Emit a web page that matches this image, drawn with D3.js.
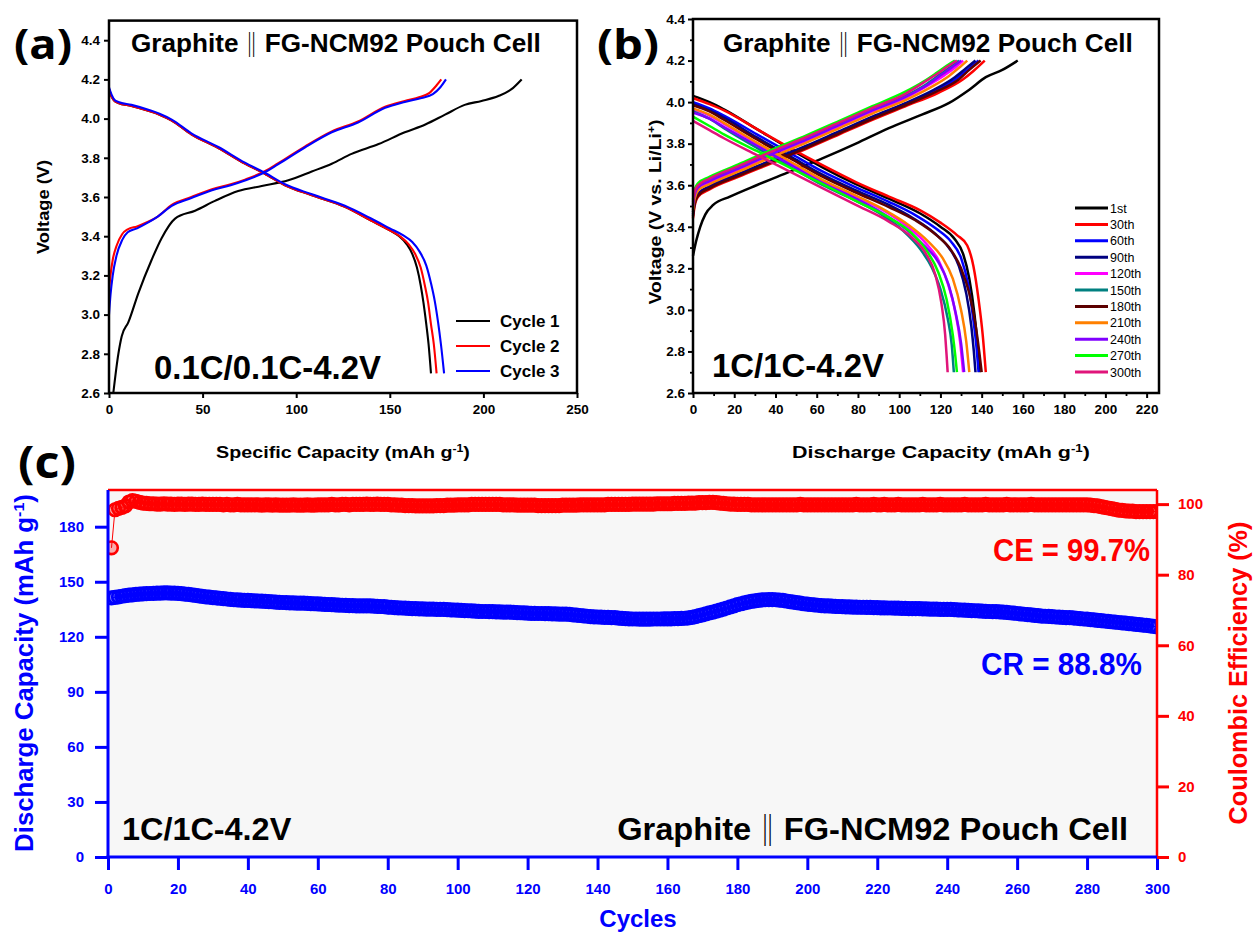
<!DOCTYPE html>
<html>
<head>
<meta charset="utf-8">
<script src="https://cdn.jsdelivr.net/npm/d3@7"></script>
<style>
  body { margin: 0; background: #fff; }
  svg { display: block; }
</style>
</head>
<body>
<svg id="fig" width="1256" height="932"></svg>
<script>
// ---------------- Panel (a): 0.1C formation cycles ----------------
const cyclesA = ["Cycle 1", "Cycle 2", "Cycle 3"];
const colorsA = ["#000000", "#ff0000", "#0000ff"];
const xTicksA = [0, 50, 100, 150, 200, 250];
const yTicksA = [2.6, 2.8, 3.0, 3.2, 3.4, 3.6, 3.8, 4.0, 4.2, 4.4];

// [capacity mAh/g, voltage V]
const chargeA1 = [[2.3,2.6],[5,2.8],[6.8,2.89],[10.3,2.96],[15.7,3.11],[22.8,3.28],[28.1,3.39],[35.3,3.49],[46,3.53],[56.6,3.58],[69,3.63],[81.6,3.656],[95.8,3.685],[108.3,3.73],[119,3.77],[129.6,3.82],[144,3.87],[158,3.93],[169,3.97],[179.5,4.02],[190,4.07],[199,4.09],[208,4.115],[215,4.15],[220.4,4.2]];
const chargeA2 = [[0,3.12],[0.8,3.2],[2,3.28],[4,3.35],[7,3.41],[10,3.435],[15,3.45],[20,3.47],[26,3.5],[33.5,3.56],[44,3.6],[55,3.64],[65,3.665],[73,3.69],[84,3.735],[90,3.77],[95,3.8],[105,3.86],[119,3.935],[133,3.985],[147.5,4.06],[158,4.09],[166,4.11],[171,4.13],[175,4.17],[177.5,4.2]];
const chargeA3 = [[0,3.0],[0.8,3.1],[2,3.2],[4,3.3],[7,3.38],[10,3.42],[15,3.44],[20,3.465],[26,3.5],[33.5,3.555],[44,3.595],[55,3.635],[65,3.66],[73,3.685],[84,3.73],[90,3.765],[95,3.795],[105,3.855],[119,3.93],[133,3.98],[147.5,4.055],[158,4.085],[167,4.105],[173,4.125],[177,4.16],[180,4.2]];
const dischargeA1 = [[0,4.15],[1.5,4.11],[3,4.09],[5,4.08],[12,4.065],[21,4.04],[27,4.02],[33.5,3.99],[44,3.92],[58.4,3.85],[72.6,3.77],[83,3.72],[94,3.66],[108,3.61],[126,3.55],[140,3.48],[150,3.43],[155,3.4],[159,3.36],[162,3.31],[164.5,3.24],[166.5,3.15],[168,3.06],[169.5,2.95],[170.7,2.85],[172,2.7]];
const dischargeA2 = [[0,4.15],[1.5,4.11],[3,4.09],[5,4.08],[12,4.065],[21,4.04],[27,4.02],[33.5,3.99],[44,3.92],[58.4,3.85],[72.6,3.77],[83,3.72],[94,3.66],[108,3.61],[126,3.55],[140,3.48],[150,3.43],[156,3.395],[160,3.36],[163.5,3.31],[166.5,3.24],[168.7,3.15],[170.5,3.06],[172,2.95],[173.5,2.85],[175,2.7]];
const dischargeA3 = [[0,4.16],[1.5,4.12],[3,4.095],[5,4.085],[12,4.07],[21,4.045],[27,4.025],[33.5,3.995],[44,3.925],[58.4,3.855],[72.6,3.775],[83,3.725],[94,3.665],[108,3.615],[126,3.555],[140,3.49],[150,3.44],[157,3.405],[162,3.37],[166,3.32],[169.5,3.25],[172,3.16],[174,3.07],[175.8,2.96],[177.3,2.85],[179,2.7]];

// ---------------- Panel (b): 1C cycling profiles ----------------
const cyclesB = ["1st","30th","60th","90th","120th","150th","180th","210th","240th","270th","300th"];
const colorsB = ["#000000","#ff0000","#0000ff","#000080","#ff00ff","#008080","#5c0000","#ff8000","#8000ff","#00ff00","#e0157a"];
const xTicksB = [0,20,40,60,80,100,120,140,160,180,200,220];
const xMinorB = [10,30,50,70,90,110,130,150,170,190,210];
const yTicksB = [2.6,2.8,3.0,3.2,3.4,3.6,3.8,4.0,4.2,4.4];
const yMinorB = [2.7,2.9,3.1,3.3,3.5,3.7,3.9,4.1,4.3];

const chargeB = [
  [[0,3.26],[1.5,3.33],[3.5,3.4],[6,3.46],[9.8,3.505],[17.9,3.545],[30.8,3.6],[47,3.665],[63,3.73],[79,3.8],[95,3.875],[111,3.94],[124,3.995],[134,4.06],[142,4.12],[150,4.155],[157.5,4.2]],
  [[0,3.44],[0.8,3.5],[2.5,3.545],[8,3.58],[22,3.64],[38,3.705],[55,3.775],[71,3.845],[87,3.915],[103,3.98],[119,4.045],[131,4.11],[136,4.15],[141.5,4.2]],
  [[0,3.46],[0.8,3.515],[2.5,3.555],[8,3.59],[22,3.65],[38,3.715],[55,3.785],[71,3.855],[87,3.925],[103,3.99],[118,4.055],[128,4.115],[133,4.155],[138.5,4.2]],
  [[0,3.47],[0.8,3.52],[2.5,3.56],[8,3.595],[22,3.655],[38,3.72],[55,3.79],[71,3.86],[87,3.93],[103,3.995],[117,4.06],[127,4.12],[132,4.16],[137,4.2]],
  [[0,3.5],[0.8,3.55],[2.5,3.585],[8,3.615],[22,3.675],[38,3.745],[55,3.815],[71,3.885],[87,3.955],[103,4.02],[114,4.08],[122,4.13],[127,4.165],[131,4.2]],
  [[0,3.51],[0.8,3.56],[2.5,3.595],[8,3.625],[22,3.685],[38,3.755],[55,3.825],[71,3.895],[87,3.965],[103,4.03],[113,4.085],[120,4.135],[125,4.17],[129,4.2]],
  [[0,3.45],[0.8,3.51],[2.5,3.55],[8,3.585],[22,3.645],[38,3.71],[55,3.78],[71,3.85],[87,3.92],[103,3.985],[118,4.05],[129,4.11],[134,4.155],[139.5,4.2]],
  [[0,3.48],[0.8,3.535],[2.5,3.575],[8,3.605],[22,3.665],[38,3.735],[55,3.805],[71,3.875],[87,3.945],[103,4.01],[115,4.07],[124,4.125],[129,4.165],[133,4.2]],
  [[0,3.5],[0.8,3.555],[2.5,3.59],[8,3.62],[22,3.68],[38,3.75],[55,3.82],[71,3.89],[87,3.96],[103,4.025],[114,4.085],[121,4.135],[126,4.17],[130,4.2]],
  [[0,3.53],[0.8,3.58],[2.5,3.61],[8,3.64],[22,3.7],[38,3.77],[55,3.84],[71,3.91],[87,3.98],[103,4.05],[112,4.1],[118,4.14],[123,4.175],[127,4.2]],
  [[0,3.52],[0.8,3.57],[2.5,3.6],[8,3.632],[22,3.692],[38,3.762],[55,3.832],[71,3.902],[87,3.972],[103,4.04],[112,4.095],[119,4.14],[124,4.175],[128,4.2]]
];
const dischargeB = [
  [[0,4.03],[8,4.0],[15,3.965],[31,3.87],[47,3.775],[63,3.685],[79,3.605],[95,3.535],[110,3.465],[120,3.4],[127,3.34],[131,3.27],[134,3.15],[136.5,2.98],[138,2.83],[139,2.7]],
  [[0,4.02],[8,3.99],[15,3.96],[31,3.87],[47,3.78],[63,3.695],[79,3.615],[95,3.545],[110,3.48],[120,3.42],[128,3.36],[133,3.31],[136,3.21],[138.5,3.05],[140.5,2.88],[142,2.7]],
  [[0,4.0],[8,3.97],[15,3.935],[31,3.845],[47,3.755],[63,3.665],[79,3.59],[95,3.52],[108,3.455],[118,3.39],[125,3.33],[130,3.25],[133.5,3.12],[136,2.95],[137.5,2.82],[138.5,2.7]],
  [[0,3.99],[8,3.96],[15,3.925],[31,3.83],[47,3.74],[63,3.65],[79,3.575],[95,3.505],[107,3.44],[117,3.37],[124,3.3],[129,3.21],[132.5,3.08],[135,2.92],[136.2,2.8],[137,2.7]],
  [[0,3.965],[8,3.935],[15,3.895],[31,3.8],[47,3.71],[63,3.62],[79,3.545],[93,3.475],[104,3.4],[113,3.32],[119,3.24],[123.5,3.13],[127,3.0],[129.5,2.85],[131,2.7]],
  [[0,3.955],[8,3.92],[15,3.875],[31,3.78],[47,3.69],[63,3.6],[79,3.525],[92,3.455],[102,3.38],[110,3.295],[116,3.2],[120,3.1],[123.5,2.96],[125.5,2.83],[126.5,2.7]],
  [[0,3.985],[8,3.955],[15,3.915],[31,3.82],[47,3.73],[63,3.64],[79,3.565],[95,3.495],[108,3.43],[118,3.36],[125,3.29],[130,3.2],[134,3.08],[137,2.93],[138.8,2.8],[140,2.7]],
  [[0,3.97],[8,3.94],[15,3.9],[31,3.805],[47,3.715],[63,3.625],[79,3.55],[93,3.48],[105,3.405],[114,3.33],[121,3.25],[126,3.15],[130,3.0],[132.5,2.85],[134,2.7]],
  [[0,3.95],[8,3.92],[15,3.88],[31,3.79],[47,3.7],[63,3.61],[79,3.535],[92,3.465],[103,3.39],[112,3.31],[119,3.23],[124,3.12],[127.5,2.98],[130,2.84],[131.5,2.7]],
  [[0,3.93],[8,3.885],[15,3.845],[31,3.765],[47,3.685],[63,3.605],[79,3.525],[95,3.445],[106,3.37],[113,3.29],[119,3.18],[123,3.05],[126,2.88],[127.2,2.78],[128,2.7]],
  [[0,3.91],[8,3.865],[15,3.826],[31,3.745],[47,3.665],[63,3.585],[79,3.505],[95,3.425],[106,3.35],[113,3.27],[117.5,3.17],[120.5,3.03],[122.3,2.88],[123,2.78],[123.5,2.7]]
];

// ---------------- Panel (c): long-term cycling ----------------
const xTicksC = [0,20,40,60,80,100,120,140,160,180,200,220,240,260,280,300];
const capTicksC = [0,30,60,90,120,150,180];
const ceTicksC = [0,20,40,60,80,100];

// discharge capacity (mAh/g), cycles 1-300
const capacityC = [
  141.2,141.5,141.8,142.1,142.4,142.7,142.9,143.1,143.3,143.4,
  143.5,143.6,143.7,143.8,143.8,143.9,143.9,143.8,143.8,143.7,
  143.5,143.3,143.1,142.9,142.6,142.3,142.0,141.8,141.6,141.4,
  141.2,141.0,140.8,140.6,140.4,140.2,140.1,140.0,139.9,139.8,
  139.7,139.6,139.5,139.4,139.3,139.2,139.1,138.9,138.8,138.7,
  138.6,138.5,138.5,138.4,138.4,138.3,138.2,138.1,138.0,137.9,
  137.8,137.7,137.6,137.5,137.4,137.3,137.2,137.1,137.0,137.0,
  136.9,136.9,136.9,136.9,136.8,136.7,136.6,136.5,136.4,136.2,
  136.1,135.9,135.8,135.7,135.6,135.5,135.4,135.3,135.2,135.2,
  135.1,135.1,135.1,135.0,135.0,134.9,134.8,134.7,134.6,134.5,
  134.4,134.3,134.2,134.1,134.0,133.9,133.8,133.8,133.7,133.7,
  133.6,133.6,133.5,133.5,133.4,133.3,133.2,133.1,133.0,132.9,
  132.8,132.8,132.7,132.7,132.6,132.6,132.5,132.5,132.4,132.4,
  132.4,132.2,132.0,131.8,131.6,131.4,131.2,131.0,130.9,130.8,
  130.7,130.6,130.6,130.5,130.4,130.2,130.0,129.9,129.8,129.7,
  129.7,129.6,129.6,129.6,129.6,129.7,129.7,129.7,129.8,129.8,
  129.8,129.9,129.9,130.0,130.1,130.3,130.6,131.0,131.5,132.0,
  132.5,133.0,133.5,134.0,134.5,135.1,135.7,136.3,136.9,137.5,
  138.0,138.5,138.9,139.3,139.6,139.9,140.1,140.2,140.3,140.3,
  140.2,140.0,139.8,139.5,139.2,138.9,138.6,138.3,138.0,137.8,
  137.6,137.4,137.2,137.0,136.9,136.8,136.7,136.6,136.5,136.4,
  136.3,136.3,136.2,136.2,136.1,136.1,136.0,136.0,135.9,135.9,
  135.8,135.8,135.7,135.7,135.6,135.6,135.5,135.5,135.4,135.4,
  135.3,135.3,135.2,135.2,135.1,135.1,135.1,135.0,135.0,134.9,
  134.9,134.8,134.7,134.6,134.5,134.4,134.3,134.2,134.1,134.0,
  133.9,133.8,133.7,133.7,133.6,133.5,133.3,133.1,132.9,132.7,
  132.5,132.3,132.1,131.9,131.7,131.5,131.3,131.2,131.1,131.0,
  130.8,130.7,130.6,130.5,130.4,130.3,130.1,129.9,129.7,129.6,
  129.4,129.2,129.0,128.8,128.6,128.4,128.2,128.0,127.8,127.6,
  127.4,127.2,127.0,126.8,126.6,126.4,126.2,125.9,125.7,125.4
];
// coulombic efficiency (%), cycles 1-300
const efficiencyC = [
  87.6,98.4,98.8,99.1,99.5,100.6,101.0,100.8,100.5,100.3,
  100.2,100.1,100.1,100.0,100.0,100.1,100.0,100.0,99.9,100.0,
  100.0,99.9,100.0,100.0,99.9,99.9,100.0,99.9,99.9,99.9,
  99.9,99.9,99.8,99.9,99.8,99.8,99.9,99.8,99.8,99.8,
  99.8,99.8,99.8,99.7,99.8,99.8,99.7,99.8,99.7,99.7,
  99.7,99.7,99.8,99.7,99.7,99.7,99.8,99.7,99.7,99.8,
  99.8,99.8,99.8,99.9,99.8,99.8,99.9,99.9,99.8,99.9,
  99.9,99.9,99.9,100.0,99.9,99.9,100.0,99.9,99.9,99.9,
  99.8,99.8,99.7,99.7,99.6,99.6,99.6,99.5,99.5,99.5,
  99.5,99.5,99.5,99.6,99.6,99.6,99.7,99.7,99.7,99.8,
  99.8,99.8,99.8,99.9,99.9,99.9,99.9,99.9,99.9,99.9,
  99.9,99.9,99.8,99.8,99.8,99.8,99.7,99.7,99.7,99.7,
  99.7,99.7,99.6,99.6,99.6,99.6,99.6,99.6,99.6,99.7,
  99.7,99.7,99.7,99.7,99.8,99.8,99.8,99.8,99.8,99.8,
  99.8,99.8,99.9,99.9,99.9,99.9,99.9,99.9,99.9,100.0,
  100.0,100.0,100.0,100.0,100.0,100.0,100.1,100.1,100.1,100.1,
  100.1,100.2,100.2,100.2,100.2,100.3,100.3,100.3,100.4,100.4,
  100.4,100.5,100.5,100.4,100.3,100.2,100.1,100.0,100.0,99.9,
  99.9,99.9,99.9,99.8,99.8,99.8,99.8,99.8,99.8,99.8,
  99.8,99.8,99.8,99.8,99.8,99.8,99.8,99.9,99.8,99.8,
  99.8,99.8,99.8,99.8,99.8,99.8,99.8,99.8,99.8,99.8,
  99.8,99.8,99.8,99.9,99.8,99.8,99.8,99.8,99.9,99.8,
  99.8,99.9,99.8,99.8,99.8,99.9,99.8,99.8,99.8,99.8,
  99.8,99.8,99.9,99.8,99.8,99.8,99.8,99.9,99.8,99.8,
  99.8,99.8,99.8,99.8,99.9,99.8,99.8,99.8,99.8,99.8,
  99.9,99.8,99.8,99.8,99.8,99.8,99.9,99.8,99.8,99.8,
  99.8,99.8,99.8,99.9,99.8,99.8,99.8,99.8,99.8,99.8,
  99.8,99.8,99.8,99.8,99.8,99.8,99.8,99.8,99.8,99.8,
  99.7,99.6,99.5,99.3,99.1,98.9,98.7,98.5,98.3,98.2,
  98.1,98.0,98.0,97.9,97.9,97.9,97.9,97.9,97.9,97.9
];
const cycleNumbers = d3.range(1, capacityC.length + 1);

// ---------------- drawing helpers ----------------
const FONT = "'Liberation Sans', Arial, Helvetica, sans-serif";
const BAR_FONT = "'Noto Sans CJK SC', 'DejaVu Sans', sans-serif";
const svg = d3.select("#fig");

// text with optional superscripts / font runs; width squeezes or stretches horizontally
function addText(parent, o) {
  const g = parent.append("g")
    .attr("transform", `translate(${o.x},${o.y})` + (o.rotate ? ` rotate(${o.rotate})` : ""));
  const t = g.append("text")
    .attr("text-anchor", o.anchor || "start")
    .style("font-family", o.family || FONT)
    .style("font-size", o.size + "px")
    .style("font-weight", o.weight || "bold")
    .attr("fill", o.fill || "#000");
  let offset = 0;   // current baseline shift, returned to zero by the next run
  (o.parts || [{ t: o.text }]).forEach(p => {
    const s = t.append("tspan").text(p.t);
    if (p.family) s.style("font-family", p.family).style("font-weight", "normal");
    let shift = 0, fs = null;
    if (p.sup) { shift = -o.size * 0.38; fs = o.size * 0.62; }
    if (p.drop) { shift = p.drop * o.size; }
    if (p.scale) { fs = o.size * p.scale; }
    if (fs) s.style("font-size", fs + "px");
    const dy = shift - offset;
    if (dy !== 0) s.attr("dy", dy);
    offset = shift;
  });
  if (o.width) {
    const w = t.node().getBBox().width;
    if (w > 0) t.attr("transform", `scale(${o.width / w},1)`);
  }
  return t;
}

// cell title with a tall double bar between the electrodes
function cellTitle(parent, x, y, size, width, anchor) {
  return addText(parent, { x, y, size, width, anchor,
    parts: [{ t: "Graphite" }, { t: "\u2016", family: BAR_FONT, drop: 0.07 }, { t: "FG-NCM92 Pouch Cell" }] });
}

function styleAxis(sel, o) {
  sel.select(".domain").remove();
  sel.selectAll(".tick line").attr("stroke", o.color || "#000").attr("stroke-width", o.tickWidth || 2);
  sel.selectAll(".tick text")
    .attr("fill", o.color || "#000")
    .style("font-family", FONT)
    .style("font-weight", "bold")
    .style("font-size", (o.size || 13) + "px");
}

const fmt1 = d3.format(".1f");
const fmtInt = d3.format("d");

// ================= Panel (a) =================
const gA = svg.append("g");
const xA = d3.scaleLinear().domain([0, 250]).range([109, 577]);
const yA = d3.scaleLinear().domain([2.6, 4.5]).range([393, 20.6]);

gA.append("g").attr("transform", "translate(0,393)")
  .call(d3.axisBottom(xA).tickValues(xTicksA).tickSize(5).tickPadding(6).tickFormat(fmtInt))
  .call(s => styleAxis(s, { size: 13.5 }));
gA.append("g").attr("transform", "translate(109,0)")
  .call(d3.axisLeft(yA).tickValues(yTicksA).tickSize(5).tickPadding(4).tickFormat(fmt1))
  .call(s => styleAxis(s, { size: 13.5 }));

const lineA = d3.line().x(d => xA(d[0])).y(d => yA(d[1])).curve(d3.curveMonotoneX);
const curvesA = [
  { c: chargeA1, k: 0 }, { c: dischargeA1, k: 0 },
  { c: chargeA2, k: 1 }, { c: dischargeA2, k: 1 },
  { c: chargeA3, k: 2 }, { c: dischargeA3, k: 2 }
];
gA.selectAll("path.curve").data(curvesA).join("path")
  .attr("class", "curve")
  .attr("d", d => lineA(d.c))
  .attr("fill", "none")
  .attr("stroke", d => colorsA[d.k])
  .attr("stroke-width", 2.1);

gA.append("rect").attr("x", xA(0)).attr("y", yA(4.5))
  .attr("width", xA(250) - xA(0)).attr("height", yA(2.6) - yA(4.5))
  .attr("fill", "none").attr("stroke", "#000").attr("stroke-width", 2.5);

// legend (a)
cyclesA.forEach((name, i) => {
  const yy = 321 + i * 25;
  gA.append("line").attr("x1", 456).attr("x2", 490).attr("y1", yy).attr("y2", yy)
    .attr("stroke", colorsA[i]).attr("stroke-width", 2.2);
  addText(gA, { x: 500, y: yy + 6, text: name, size: 17 });
});

addText(gA, { x: 14, y: 59, text: "(a)", size: 41, family: "'Open Sans', 'Noto Sans', sans-serif", width: 58 });
cellTitle(gA, 131, 52, 25, 410);
addText(gA, { x: 154, y: 379, text: "0.1C/0.1C-4.2V", size: 33, width: 227 });
addText(gA, { x: 49, y: 207, rotate: -90, anchor: "middle", size: 17, text: "Voltage (V)", width: 94 });
addText(gA, { x: 343, y: 458, anchor: "middle", size: 17, width: 254,
  parts: [{ t: "Specific Capacity (mAh g" }, { t: "-1", sup: true }, { t: ")" }] });

// ================= Panel (b) =================
const gB = svg.append("g");
const xB = d3.scaleLinear().domain([0, 226]).range([693, 1159]);
const yB = d3.scaleLinear().domain([2.6, 4.4]).range([393, 19]);

gB.append("g").attr("transform", "translate(0,393)")
  .call(d3.axisBottom(xB).tickValues(xTicksB).tickSize(5).tickPadding(6).tickFormat(fmtInt))
  .call(s => styleAxis(s, { size: 13.5 }));
gB.append("g").attr("transform", "translate(0,393)")
  .call(d3.axisBottom(xB).tickValues(xMinorB).tickSize(3).tickFormat(""))
  .call(s => styleAxis(s, { tickWidth: 1.8 }));
gB.append("g").attr("transform", "translate(693,0)")
  .call(d3.axisLeft(yB).tickValues(yTicksB).tickSize(5).tickPadding(3).tickFormat(fmt1))
  .call(s => styleAxis(s, { size: 13.5 }));
gB.append("g").attr("transform", "translate(693,0)")
  .call(d3.axisLeft(yB).tickValues(yMinorB).tickSize(3).tickFormat(""))
  .call(s => styleAxis(s, { tickWidth: 1.8 }));

const lineB = d3.line().x(d => xB(d[0])).y(d => yB(d[1])).curve(d3.curveMonotoneX);
cyclesB.forEach((name, i) => {
  gB.append("path").attr("d", lineB(chargeB[i])).attr("fill", "none")
    .attr("stroke", colorsB[i]).attr("stroke-width", 2.5);
  gB.append("path").attr("d", lineB(dischargeB[i])).attr("fill", "none")
    .attr("stroke", colorsB[i]).attr("stroke-width", 2.5);
});

gB.append("rect").attr("x", xB(0)).attr("y", yB(4.4))
  .attr("width", xB(226) - xB(0)).attr("height", yB(2.6) - yB(4.4))
  .attr("fill", "none").attr("stroke", "#000").attr("stroke-width", 2.5);

// legend (b)
cyclesB.forEach((name, i) => {
  const yy = 208 + i * 16.4;
  gB.append("line").attr("x1", 1075).attr("x2", 1108).attr("y1", yy).attr("y2", yy)
    .attr("stroke", colorsB[i]).attr("stroke-width", 3);
  addText(gB, { x: 1110, y: yy + 4.5, text: name, size: 12.5, weight: "normal" });
});

addText(gB, { x: 597, y: 59, text: "(b)", size: 41, family: "'Open Sans', 'Noto Sans', sans-serif", width: 62 });
cellTitle(gB, 723, 52, 25, 410);
addText(gB, { x: 712, y: 377, text: "1C/1C-4.2V", size: 33, width: 172 });
addText(gB, { x: 661, y: 212, rotate: -90, anchor: "middle", size: 17, width: 185,
  parts: [{ t: "Voltage (V vs. Li/Li" }, { t: "+", sup: true }, { t: ")" }] });
addText(gB, { x: 941, y: 458, anchor: "middle", size: 17, width: 298,
  parts: [{ t: "Discharge Capacity (mAh g" }, { t: "-1", sup: true }, { t: ")" }] });

// ================= Panel (c) =================
const gC = svg.append("g");
const BLUE = "#0000ff", RED = "#ff0000";
const xC = d3.scaleLinear().domain([0, 300]).range([108, 1157]);
const yCap = d3.scaleLinear().domain([0, 200]).range([857, 490]);
const yCE = d3.scaleLinear().domain([0, 104]).range([857, 490]);

gC.append("rect").attr("x", xC(0)).attr("y", yCap(200))
  .attr("width", xC(300) - xC(0)).attr("height", yCap(0) - yCap(200))
  .attr("fill", "#f7f7f7");

svg.append("defs").append("clipPath").attr("id", "clipC")
  .append("rect").attr("x", xC(0)).attr("y", yCap(200))
  .attr("width", xC(300) - xC(0)).attr("height", yCap(0) - yCap(200));

const plotC = gC.append("g").attr("clip-path", "url(#clipC)");

// coulombic efficiency
plotC.append("path")
  .attr("d", d3.line().x((d, i) => xC(cycleNumbers[i])).y(d => yCE(d))(efficiencyC))
  .attr("fill", "none").attr("stroke", RED).attr("stroke-width", 1);
plotC.selectAll("circle.ce").data(efficiencyC).join("circle")
  .attr("class", "ce")
  .attr("cx", (d, i) => xC(cycleNumbers[i])).attr("cy", d => yCE(d))
  .attr("r", 6.3).attr("fill", RED).attr("fill-opacity", 0.3)
  .attr("stroke", RED).attr("stroke-width", 2.6);

// discharge capacity
plotC.append("path")
  .attr("d", d3.line().x((d, i) => xC(cycleNumbers[i])).y(d => yCap(d))(capacityC))
  .attr("fill", "none").attr("stroke", BLUE).attr("stroke-width", 1);
plotC.selectAll("circle.cap").data(capacityC).join("circle")
  .attr("class", "cap")
  .attr("cx", (d, i) => xC(cycleNumbers[i])).attr("cy", d => yCap(d))
  .attr("r", 6.3).attr("fill", BLUE).attr("fill-opacity", 0.3)
  .attr("stroke", BLUE).attr("stroke-width", 2.6);

// axes (c)
gC.append("g").attr("transform", "translate(0,857)")
  .call(d3.axisBottom(xC).tickValues(xTicksC).tickSize(13).tickPadding(13).tickFormat(fmtInt))
  .call(s => styleAxis(s, { color: BLUE, size: 15, tickWidth: 3 }));
gC.append("g").attr("transform", "translate(108,0)")
  .call(d3.axisLeft(yCap).tickValues(capTicksC).tickSize(13).tickPadding(11).tickFormat(fmtInt))
  .call(s => styleAxis(s, { color: BLUE, size: 15, tickWidth: 3 }));
gC.append("g").attr("transform", "translate(1157,0)")
  .call(d3.axisRight(yCE).tickValues(ceTicksC).tickSize(12).tickPadding(9).tickFormat(fmtInt))
  .call(s => styleAxis(s, { color: RED, size: 15, tickWidth: 3 }));

gC.append("line").attr("x1", xC(0)).attr("x2", xC(300)).attr("y1", yCap(200)).attr("y2", yCap(200))
  .attr("stroke", RED).attr("stroke-width", 2.5);
gC.append("line").attr("x1", xC(300)).attr("x2", xC(300)).attr("y1", yCap(200)).attr("y2", yCap(0))
  .attr("stroke", RED).attr("stroke-width", 2.5);
gC.append("line").attr("x1", xC(0)).attr("x2", xC(0)).attr("y1", yCap(200)).attr("y2", yCap(0) + 1.5)
  .attr("stroke", BLUE).attr("stroke-width", 3);
gC.append("line").attr("x1", xC(0) - 1.5).attr("x2", xC(300)).attr("y1", yCap(0)).attr("y2", yCap(0))
  .attr("stroke", BLUE).attr("stroke-width", 3);

addText(gC, { x: 18, y: 478, text: "(c)", size: 45, family: "'Open Sans', 'Noto Sans', sans-serif", width: 58 });
addText(gC, { x: 122, y: 840, text: "1C/1C-4.2V", size: 32, width: 170 });
cellTitle(gC, 1128, 840, 32, 511, "end");
addText(gC, { x: 1150, y: 561, anchor: "end", text: "CE = 99.7%", size: 32, fill: RED, width: 157 });
addText(gC, { x: 1142, y: 675, anchor: "end", text: "CR = 88.8%", size: 32, fill: BLUE, width: 161 });
addText(gC, { x: 638, y: 927, anchor: "middle", text: "Cycles", size: 24, fill: BLUE });
addText(gC, { x: 33, y: 673, rotate: -90, anchor: "middle", size: 25, fill: BLUE, width: 358,
  parts: [{ t: "Discharge Capacity (mAh g" }, { t: "-1", sup: true }, { t: ")" }] });
addText(gC, { x: 1247, y: 673, rotate: -90, anchor: "middle", size: 25, fill: RED, width: 303,
  text: "Coulombic Efficiency (%)" });
</script>
</body>
</html>
